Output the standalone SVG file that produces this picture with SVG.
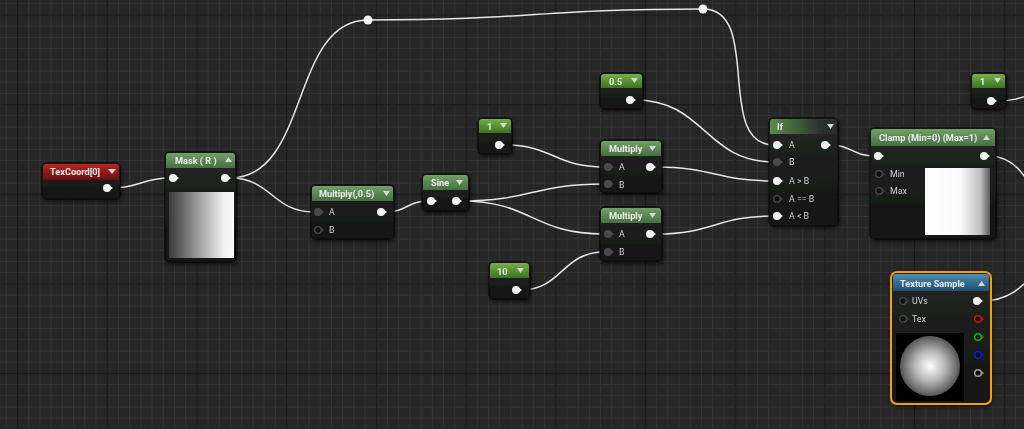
<svg xmlns="http://www.w3.org/2000/svg" width="1024" height="429" viewBox="0 0 1024 429">
<defs>
<pattern id="minor" patternUnits="userSpaceOnUse" width="11.2125" height="11.2" patternTransform="translate(17 14.5)">
<rect x="0" y="0" width="11.2125" height="11.2" fill="#262626"/>
<path d="M0.5 0V11.2M0 0.5H11.2125" stroke="#343434" stroke-width="1"/>
</pattern>
<pattern id="major" patternUnits="userSpaceOnUse" width="89.7" height="89.6" patternTransform="translate(17 14.5)">
<path d="M0.5 0V89.6M0 0.5H89.7" stroke="#171717" stroke-width="1.4"/>
</pattern>
<linearGradient id="gBody" x1="0" y1="0" x2="0" y2="1">
<stop offset="0" stop-color="#232523"/>
<stop offset="1" stop-color="#131413"/>
</linearGradient>
<linearGradient id="gGreen" x1="0" y1="0" x2="0" y2="1">
<stop offset="0" stop-color="#72a065"/>
<stop offset="1" stop-color="#476f42"/>
</linearGradient>
<linearGradient id="gConst" x1="0" y1="0" x2="0" y2="1">
<stop offset="0" stop-color="#74b046"/>
<stop offset="1" stop-color="#3c7320"/>
</linearGradient>
<linearGradient id="gRed" x1="0" y1="0" x2="0" y2="1">
<stop offset="0" stop-color="#b82626"/>
<stop offset="1" stop-color="#6a0f0f"/>
</linearGradient>
<linearGradient id="gBlue" x1="0" y1="0" x2="0" y2="1">
<stop offset="0" stop-color="#4d8db5"/>
<stop offset="1" stop-color="#214d6c"/>
</linearGradient>
<linearGradient id="gIf" x1="0" y1="0" x2="1" y2="0">
<stop offset="0" stop-color="#5a8a4c"/>
<stop offset="0.45" stop-color="#3d5a37"/>
<stop offset="0.75" stop-color="#2d302d"/>
<stop offset="1" stop-color="#2a2c2a"/>
</linearGradient>
<linearGradient id="gMask" x1="0" y1="0" x2="1" y2="0">
<stop offset="0" stop-color="#3a3a3a"/>
<stop offset="0.5" stop-color="#a8a8a8"/>
<stop offset="0.85" stop-color="#f0f0f0"/>
<stop offset="1" stop-color="#fcfcfc"/>
</linearGradient>
<linearGradient id="gClamp" x1="0" y1="0" x2="1" y2="0">
<stop offset="0" stop-color="#ffffff"/>
<stop offset="0.55" stop-color="#fafafa"/>
<stop offset="0.85" stop-color="#c0c0c0"/>
<stop offset="1" stop-color="#5a5a5a"/>
</linearGradient>
<radialGradient id="gSphere" cx="0.5" cy="0.5" r="0.5">
<stop offset="0" stop-color="#ffffff"/>
<stop offset="0.5" stop-color="#b8b8b8"/>
<stop offset="1" stop-color="#555555"/>
</radialGradient>
<filter id="shadow" x="-20%" y="-20%" width="140%" height="140%">
<feDropShadow dx="1" dy="2" stdDeviation="2" flood-color="#000" flood-opacity="0.6"/>
</filter>
<g id="pinW"><circle r="4" fill="#f2f2f2"/><path d="M3 -2.3L6 0L3 2.3Z" fill="#f2f2f2"/></g>
<g id="pinG"><circle r="4" fill="#4a4a4a"/><path d="M3 -2.3L6 0L3 2.3Z" fill="#4a4a4a"/></g>
<g id="pinH"><circle r="3.3" fill="#111" stroke="#4a4a4a" stroke-width="1.2"/><path d="M3.2 -1.8L5.5 0L3.2 1.8" fill="none" stroke="#4a4a4a" stroke-width="1"/></g>
<style>
.body{fill:url(#gBody);stroke:#0b0b0b;stroke-width:1}
.ht{font-family:Roboto,"Liberation Sans",sans-serif;font-size:9.2px;font-weight:bold;fill:#ececec}
.pt{font-family:Roboto,"Liberation Sans",sans-serif;font-size:8.8px;fill:#cfcfcf}
.tri{fill:#d8d8d8}
.wire{fill:none;stroke:#e6e6e6;stroke-width:1.5}
</style>
</defs>
<rect width="1024" height="429" fill="#262626"/>
<rect width="1024" height="429" fill="url(#minor)"/>
<rect width="1024" height="429" fill="url(#major)"/>

<g id="connectors">
<path class="wire" d="M112 188C140 188 142 178 170 178"/>
<path class="wire" d="M230 178C272 178 272 212 314 212"/>
<path class="wire" d="M230 178C310 178 290 20 368 20"/>
<path class="wire" d="M368 20C535 20 535 9 703 9"/>
<path class="wire" d="M703 9C763 9 714 145 774 145"/>
<path class="wire" d="M386 212C407 212 407 201 428 201"/>
<path class="wire" d="M461 201C532 201 532 184 604 184"/>
<path class="wire" d="M461 201C532 201 532 234 604 234"/>
<path class="wire" d="M504 145C554 145 554 167 604 167"/>
<path class="wire" d="M521 290C562 290 562 252 604 252"/>
<path class="wire" d="M635 100C705 100 705 162 774 162"/>
<path class="wire" d="M655 167C715 167 715 181 774 181"/>
<path class="wire" d="M655 234C715 234 715 216 774 216"/>
<path class="wire" d="M830 145C852 145 852 156 875 156"/>
<path class="wire" d="M989 156C1040 156 1035 240 1090 240"/>
<path class="wire" d="M996 101C1030 101 1030 88 1070 88"/>
<path class="wire" d="M982 301C1035 301 1035 245 1090 245"/>
<circle cx="368" cy="20" r="4.5" fill="#f2f2f2"/>
<circle cx="703" cy="9" r="4.5" fill="#f2f2f2"/>
</g>

<g id="texcoord" filter="url(#shadow)">
<rect class="body" x="42" y="163" width="78" height="36" rx="4"/>
<path d="M43 180V167Q43 164 46 164H116Q119 164 119 167V180Z" fill="url(#gRed)"/>
<text class="ht" x="50" y="175">TexCoord[0]</text>
<polygon class="tri" points="108,169 116,169 112,174"/>
<use href="#pinW" x="107" y="188"/>
</g>

<g id="mask" filter="url(#shadow)">
<rect class="body" x="165" y="152" width="71" height="110" rx="4"/>
<path d="M166 168V156Q166 153 169 153H232Q235 153 235 156V168Z" fill="url(#gGreen)"/>
<text class="ht" x="175" y="164">Mask ( R )</text>
<polygon class="tri" points="225,162 232,162 228.5,157"/>
<use href="#pinW" x="173" y="178"/>
<use href="#pinW" x="225" y="178"/>
<rect x="169" y="192" width="65" height="66" fill="url(#gMask)"/>
</g>

<g id="mult05" filter="url(#shadow)">
<rect class="body" x="311" y="185" width="83" height="54" rx="4"/>
<path d="M312 201V189Q312 186 315 186H390Q393 186 393 189V201Z" fill="url(#gGreen)"/>
<text class="ht" x="319" y="197">Multiply(,0.5)</text>
<polygon class="tri" points="383,191 390,191 386.5,196"/>
<use href="#pinG" x="318" y="212"/>
<use href="#pinH" x="318" y="230"/>
<text class="pt" x="329" y="215">A</text>
<text class="pt" x="329" y="233">B</text>
<use href="#pinW" x="381" y="212"/>
</g>

<g id="sine" filter="url(#shadow)">
<rect class="body" x="422" y="174" width="47" height="37" rx="4"/>
<path d="M423 190V178Q423 175 426 175H465Q468 175 468 178V190Z" fill="url(#gGreen)"/>
<text class="ht" x="431" y="186">Sine</text>
<polygon class="tri" points="456,180 463,180 459.5,185"/>
<use href="#pinW" x="431" y="201"/>
<use href="#pinW" x="456" y="201"/>
</g>

<g id="const1" filter="url(#shadow)">
<rect class="body" x="478" y="118" width="34" height="36" rx="4"/>
<path d="M479 133V122Q479 119 482 119H508Q511 119 511 122V133Z" fill="url(#gConst)"/>
<text class="ht" x="487" y="130">1</text>
<polygon class="tri" points="500,123 507,123 503.5,128"/>
<use href="#pinW" x="499" y="145"/>
</g>

<g id="const05" filter="url(#shadow)">
<rect class="body" x="600" y="73" width="43" height="36" rx="4"/>
<path d="M601 88V77Q601 74 604 74H639Q642 74 642 77V88Z" fill="url(#gConst)"/>
<text class="ht" x="609" y="85">0.5</text>
<polygon class="tri" points="631,78 638,78 634.5,83"/>
<use href="#pinW" x="630" y="100"/>
</g>

<g id="multTop" filter="url(#shadow)">
<rect class="body" x="600" y="140" width="62" height="53" rx="4"/>
<path d="M601 156V144Q601 141 604 141H658Q661 141 661 144V156Z" fill="url(#gGreen)"/>
<text class="ht" x="609" y="152">Multiply</text>
<polygon class="tri" points="649,146 656,146 652.5,151"/>
<use href="#pinG" x="608" y="167"/>
<use href="#pinG" x="608" y="184"/>
<text class="pt" x="619" y="170">A</text>
<text class="pt" x="619" y="188">B</text>
<use href="#pinW" x="650" y="167"/>
</g>

<g id="multBot" filter="url(#shadow)">
<rect class="body" x="600" y="207" width="62" height="54" rx="4"/>
<path d="M601 223V211Q601 208 604 208H658Q661 208 661 211V223Z" fill="url(#gGreen)"/>
<text class="ht" x="609" y="219">Multiply</text>
<polygon class="tri" points="649,213 656,213 652.5,218"/>
<use href="#pinG" x="608" y="234"/>
<use href="#pinG" x="608" y="252"/>
<text class="pt" x="619" y="237">A</text>
<text class="pt" x="619" y="255">B</text>
<use href="#pinW" x="650" y="234"/>
</g>

<g id="const10" filter="url(#shadow)">
<rect class="body" x="489" y="262" width="41" height="37" rx="4"/>
<path d="M490 278V266Q490 263 493 263H526Q529 263 529 266V278Z" fill="url(#gConst)"/>
<text class="ht" x="497" y="275">10</text>
<polygon class="tri" points="517,268 524,268 520.5,273"/>
<use href="#pinW" x="516" y="290"/>
</g>

<g id="if" filter="url(#shadow)">
<rect class="body" x="769" y="118" width="69" height="108" rx="4"/>
<path d="M770 134V122Q770 119 773 119H834Q837 119 837 122V134Z" fill="url(#gIf)"/>
<text class="ht" x="777" y="130">If</text>
<polygon class="tri" points="827,124 834,124 830.5,129"/>
<use href="#pinW" x="777" y="145"/>
<use href="#pinG" x="777" y="162"/>
<use href="#pinW" x="777" y="181"/>
<use href="#pinH" x="777" y="199"/>
<use href="#pinW" x="777" y="216"/>
<text class="pt" x="789" y="148">A</text>
<text class="pt" x="789" y="165">B</text>
<text class="pt" x="789" y="184">A &gt; B</text>
<text class="pt" x="789" y="202">A == B</text>
<text class="pt" x="789" y="219">A &lt; B</text>
<use href="#pinW" x="825" y="145"/>
</g>

<g id="clamp" filter="url(#shadow)">
<rect class="body" x="870" y="128" width="126" height="111" rx="4"/>
<path d="M871 146V132Q871 129 874 129H992Q995 129 995 132V146Z" fill="url(#gGreen)"/>
<text class="ht" x="879" y="141">Clamp (Min=0) (Max=1)</text>
<polygon class="tri" points="983,140 990,140 986.5,135"/>
<use href="#pinW" x="878" y="156"/>
<use href="#pinW" x="984" y="156"/>
<use href="#pinH" x="879" y="174"/>
<use href="#pinH" x="879" y="191"/>
<text class="pt" x="890" y="177">Min</text>
<text class="pt" x="890" y="194">Max</text>
<rect x="925" y="168" width="65" height="67" fill="url(#gClamp)"/>
</g>

<g id="const1r" filter="url(#shadow)">
<rect class="body" x="971" y="73" width="35" height="36" rx="4"/>
<path d="M972 88V77Q972 74 975 74H1002Q1005 74 1005 77V88Z" fill="url(#gConst)"/>
<text class="ht" x="980" y="85">1</text>
<polygon class="tri" points="994,78 1001,78 997.5,83"/>
<use href="#pinW" x="991" y="101"/>
</g>

<g id="texsample" filter="url(#shadow)">
<rect x="891" y="272" width="100" height="132" rx="6" fill="url(#gBody)" stroke="#f0a010" stroke-width="2"/>
<path d="M893 291V277Q893 274 896 274H986Q989 274 989 277V291Z" fill="url(#gBlue)"/>
<text class="ht" x="900" y="287">Texture Sample</text>
<polygon class="tri" points="978,286 985,286 981.5,281"/>
<use href="#pinH" x="903" y="301"/>
<use href="#pinH" x="903" y="319"/>
<text class="pt" x="912" y="304">UVs</text>
<text class="pt" x="912" y="322">Tex</text>
<use href="#pinW" x="977" y="301"/>
<g fill="#111" stroke-width="1.4">
<circle cx="978" cy="319" r="3.3" stroke="#e01010"/>
<circle cx="978" cy="337" r="3.3" stroke="#10c010"/>
<circle cx="978" cy="355" r="3.3" stroke="#1818e0"/>
<circle cx="978" cy="373" r="3.3" stroke="#a0a0a0"/>
</g>
<g fill="none" stroke-width="1">
<path d="M981 317L983.5 319L981 321" stroke="#e01010"/>
<path d="M981 335L983.5 337L981 339" stroke="#10c010"/>
<path d="M981 353L983.5 355L981 357" stroke="#1818e0"/>
<path d="M981 371L983.5 373L981 375" stroke="#a0a0a0"/>
</g>
<rect x="896" y="333" width="68" height="68" fill="#050505"/>
<circle cx="930" cy="366" r="30" fill="url(#gSphere)"/>
</g>
</svg>
